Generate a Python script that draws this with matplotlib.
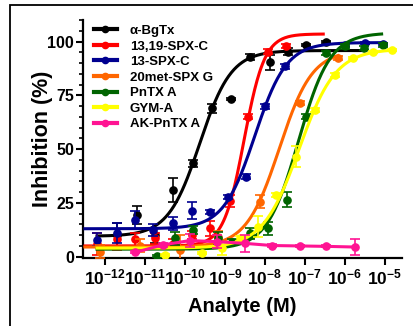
import numpy as np
import matplotlib.pyplot as plt
from matplotlib.patches import Rectangle

plt.rcParams['font.family'] = ['Liberation Sans', 'DejaVu Sans']
plt.rcParams['font.weight'] = 'bold'
plt.rcParams['mathtext.fontset'] = 'custom'
plt.rcParams['mathtext.rm'] = 'Liberation Sans:bold'
plt.rcParams['mathtext.default'] = 'rm'

# ---- data (log10 of analyte concentration, % inhibition, sem) ----
names = ['\u03b1-BgTx', '13,19-SPX-C', '13-SPX-C', '20met-SPX G', 'PnTX A', 'GYM-A', 'AK-PnTX A']
colors = ['#000000', '#ff0000', '#000090', '#ff6600', '#006400', '#ffff00', '#ff1493']

bgtx_x = [-11.71, -11.21, -10.75, -10.29, -9.80, -9.33, -8.84, -8.37, -7.88, -7.42, -6.96, -6.46]
bgtx_y = [10.1, 19.4, 10.0, 31.0, 43.4, 69.0, 73.3, 92.7, 90.4, 95.3, 98.5, 99.7]
bgtx_e = [5.5, 4.0, 3.5, 5.5, 1.5, 2.0, 0.5, 1.5, 3.5, 1.5, 0.5, 0.5]

spx1319_x = [-12.21, -11.71, -11.25, -10.75, -10.29, -9.83, -9.375, -8.875, -8.42, -7.92, -7.46]
spx1319_y = [6.0, 8.0, 8.1, 8.5, 6.0, 10.0, 13.2, 25.9, 65.1, 95.3, 98.0]
spx1319_e = [5.0, 5.0, 3.0, 2.5, 2.0, 2.0, 3.5, 3.0, 1.0, 1.0, 1.0]

spx13_x = [-12.21, -11.71, -11.25, -10.79, -10.29, -9.83, -9.375, -8.92, -8.46, -8.0, -7.5, -6.0, -5.5, -5.04]
spx13_y = [7.8, 11.0, 17.1, 12.4, 15.5, 21.3, 20.9, 27.9, 37.2, 69.8, 88.4, 98.5, 99.5, 99.0]
spx13_e = [3.0, 4.5, 4.0, 3.0, 3.0, 4.0, 1.0, 1.0, 1.0, 1.0, 1.0, 1.0, 0.5, 0.5]

spx20_x = [-12.12, -11.12, -10.12, -9.17, -8.125, -7.125, -6.17]
spx20_y = [2.3, 5.0, 3.0, 9.3, 25.6, 71.3, 92.3]
spx20_e = [3.0, 3.0, 7.0, 2.5, 3.0, 1.0, 1.0]

pntx_x = [-10.71, -10.25, -9.79, -9.17, -8.83, -8.375, -7.91, -7.44, -6.96, -6.46, -6.0, -5.52, -5.04]
pntx_y = [0.3, 8.5, 12.4, 8.5, 7.0, 10.9, 13.2, 26.4, 65.1, 94.6, 97.7, 96.9, 98.5]
pntx_e = [0.5, 3.0, 2.0, 3.0, 1.0, 2.5, 3.0, 3.5, 1.0, 1.0, 1.0, 1.0, 1.0]

gym_x = [-10.5, -9.58, -9.08, -8.625, -8.17, -7.71, -7.21, -6.75, -6.25, -5.79, -5.29, -4.83]
gym_y = [0.8, 1.6, 3.9, 8.5, 14.0, 28.7, 46.5, 68.2, 84.5, 92.3, 95.3, 96.1]
gym_e = [0.5, 0.5, 3.0, 1.0, 5.0, 1.0, 5.0, 1.0, 1.0, 0.5, 0.5, 0.5]

ak_x = [-11.25, -10.55, -9.875, -9.2, -8.5, -7.83, -7.13, -6.46, -5.75]
ak_y = [2.0, 5.5, 7.5, 7.0, 6.2, 5.2, 5.0, 4.8, 4.5]
ak_e = [0.5, 1.0, 3.0, 3.0, 4.0, 0.5, 0.5, 0.5, 3.8]

# Hill fit: bottom, top, logEC50, slope, curve start, curve end
bgtx_fit = [9.5, 95.8, -9.63, 1.1, -12.2, -5.5]
spx1319_fit = [5.0, 103.5, -8.52, 1.7, -12.5, -6.54]
spx13_fit = [13.0, 99.5, -8.25, 1.1, -12.5, -5.0]
spx20_fit = [4.5, 96.0, -7.64, 1.05, -12.5, -6.17]
pntx_fit = [3.5, 104.0, -7.16, 1.1, -12.2, -5.08]
gym_fit = [4.0, 96.5, -7.14, 0.95, -12.2, -4.8]


def hill(x, bottom, top, ec50, n):
    return bottom + (top - bottom) / (1 + 10 ** ((ec50 - x) * n))


series = [(bgtx_x, bgtx_y, bgtx_e, bgtx_fit),
          (spx1319_x, spx1319_y, spx1319_e, spx1319_fit),
          (spx13_x, spx13_y, spx13_e, spx13_fit),
          (spx20_x, spx20_y, spx20_e, spx20_fit),
          (pntx_x, pntx_y, pntx_e, pntx_fit),
          (gym_x, gym_y, gym_e, gym_fit),
          (ak_x, ak_y, ak_e, None)]

fig = plt.figure(figsize=(4.14, 3.26), dpi=100)
ax = fig.add_axes([0.2005, 0.2086, 0.7705, 0.7301])

for i, (xs, ys, es, fit) in enumerate(series):
    c = colors[i]
    conc = 10 ** np.array(xs)
    ax.errorbar(conc, ys, yerr=es, fmt='none', ecolor=c, elinewidth=1.2,
                capsize=3.5, capthick=1.2, zorder=2 + i)
    ax.plot(conc, ys, 'o', color=c, ms=5.2, zorder=2 + i)
    if fit is not None:
        xx = np.linspace(fit[4], fit[5], 300)
        ax.plot(10 ** xx, hill(xx, *fit[:4]), '-', color=c, lw=2.2, zorder=2 + i)
    else:
        ax.plot(conc, ys, '-', color=c, lw=2.2, zorder=2 + i)
    # legend proxy
    ax.plot([], [], '-o', color=c, lw=3, ms=4.5, label=names[i])

ax.set_xscale('log')
ax.set_xlim(10 ** -12.55, 10 ** -4.57)
ax.set_ylim(-0.6, 110)
ax.set_yticks([0, 25, 50, 75, 100])
ax.set_yticks(np.arange(0, 111, 5), minor=True)
ax.set_xticks([10.0 ** k for k in range(-12, -4)])
ax.set_xticklabels([r'$\mathregular{10^{%d}}$' % k for k in range(-12, -4)])

for s in ['top', 'right']:
    ax.spines[s].set_visible(False)
for s in ['left', 'bottom']:
    ax.spines[s].set_linewidth(1.6)

ax.tick_params(axis='both', which='major', direction='out', length=5, width=1.5)
ax.tick_params(axis='both', which='minor', direction='out', length=3, width=1.2)
ax.tick_params(axis='y', labelsize=11.5, pad=1.5)
ax.tick_params(axis='x', labelsize=12.5, pad=2)

ax.set_ylabel('Inhibition (%)', fontsize=15.5, fontweight='bold')
ax.yaxis.set_label_coords(-0.095, 0.5)
ax.set_xlabel('Analyte (M)', fontsize=14.5, fontweight='bold', labelpad=7)

ax.legend(loc='upper left', bbox_to_anchor=(0.035, 0.98), frameon=False, fontsize=9.5,
          handlelength=1.7, handletextpad=1.0, labelspacing=0.25, borderpad=0,
          borderaxespad=0, numpoints=1)

fig.patches.append(Rectangle((10 / 414, -0.05), 1.1, 1 - 5 / 326 + 0.05,
                             transform=fig.transFigure, fill=False, edgecolor='black',
                             lw=1.3, zorder=0))

fig.savefig('out.png', dpi=100)
